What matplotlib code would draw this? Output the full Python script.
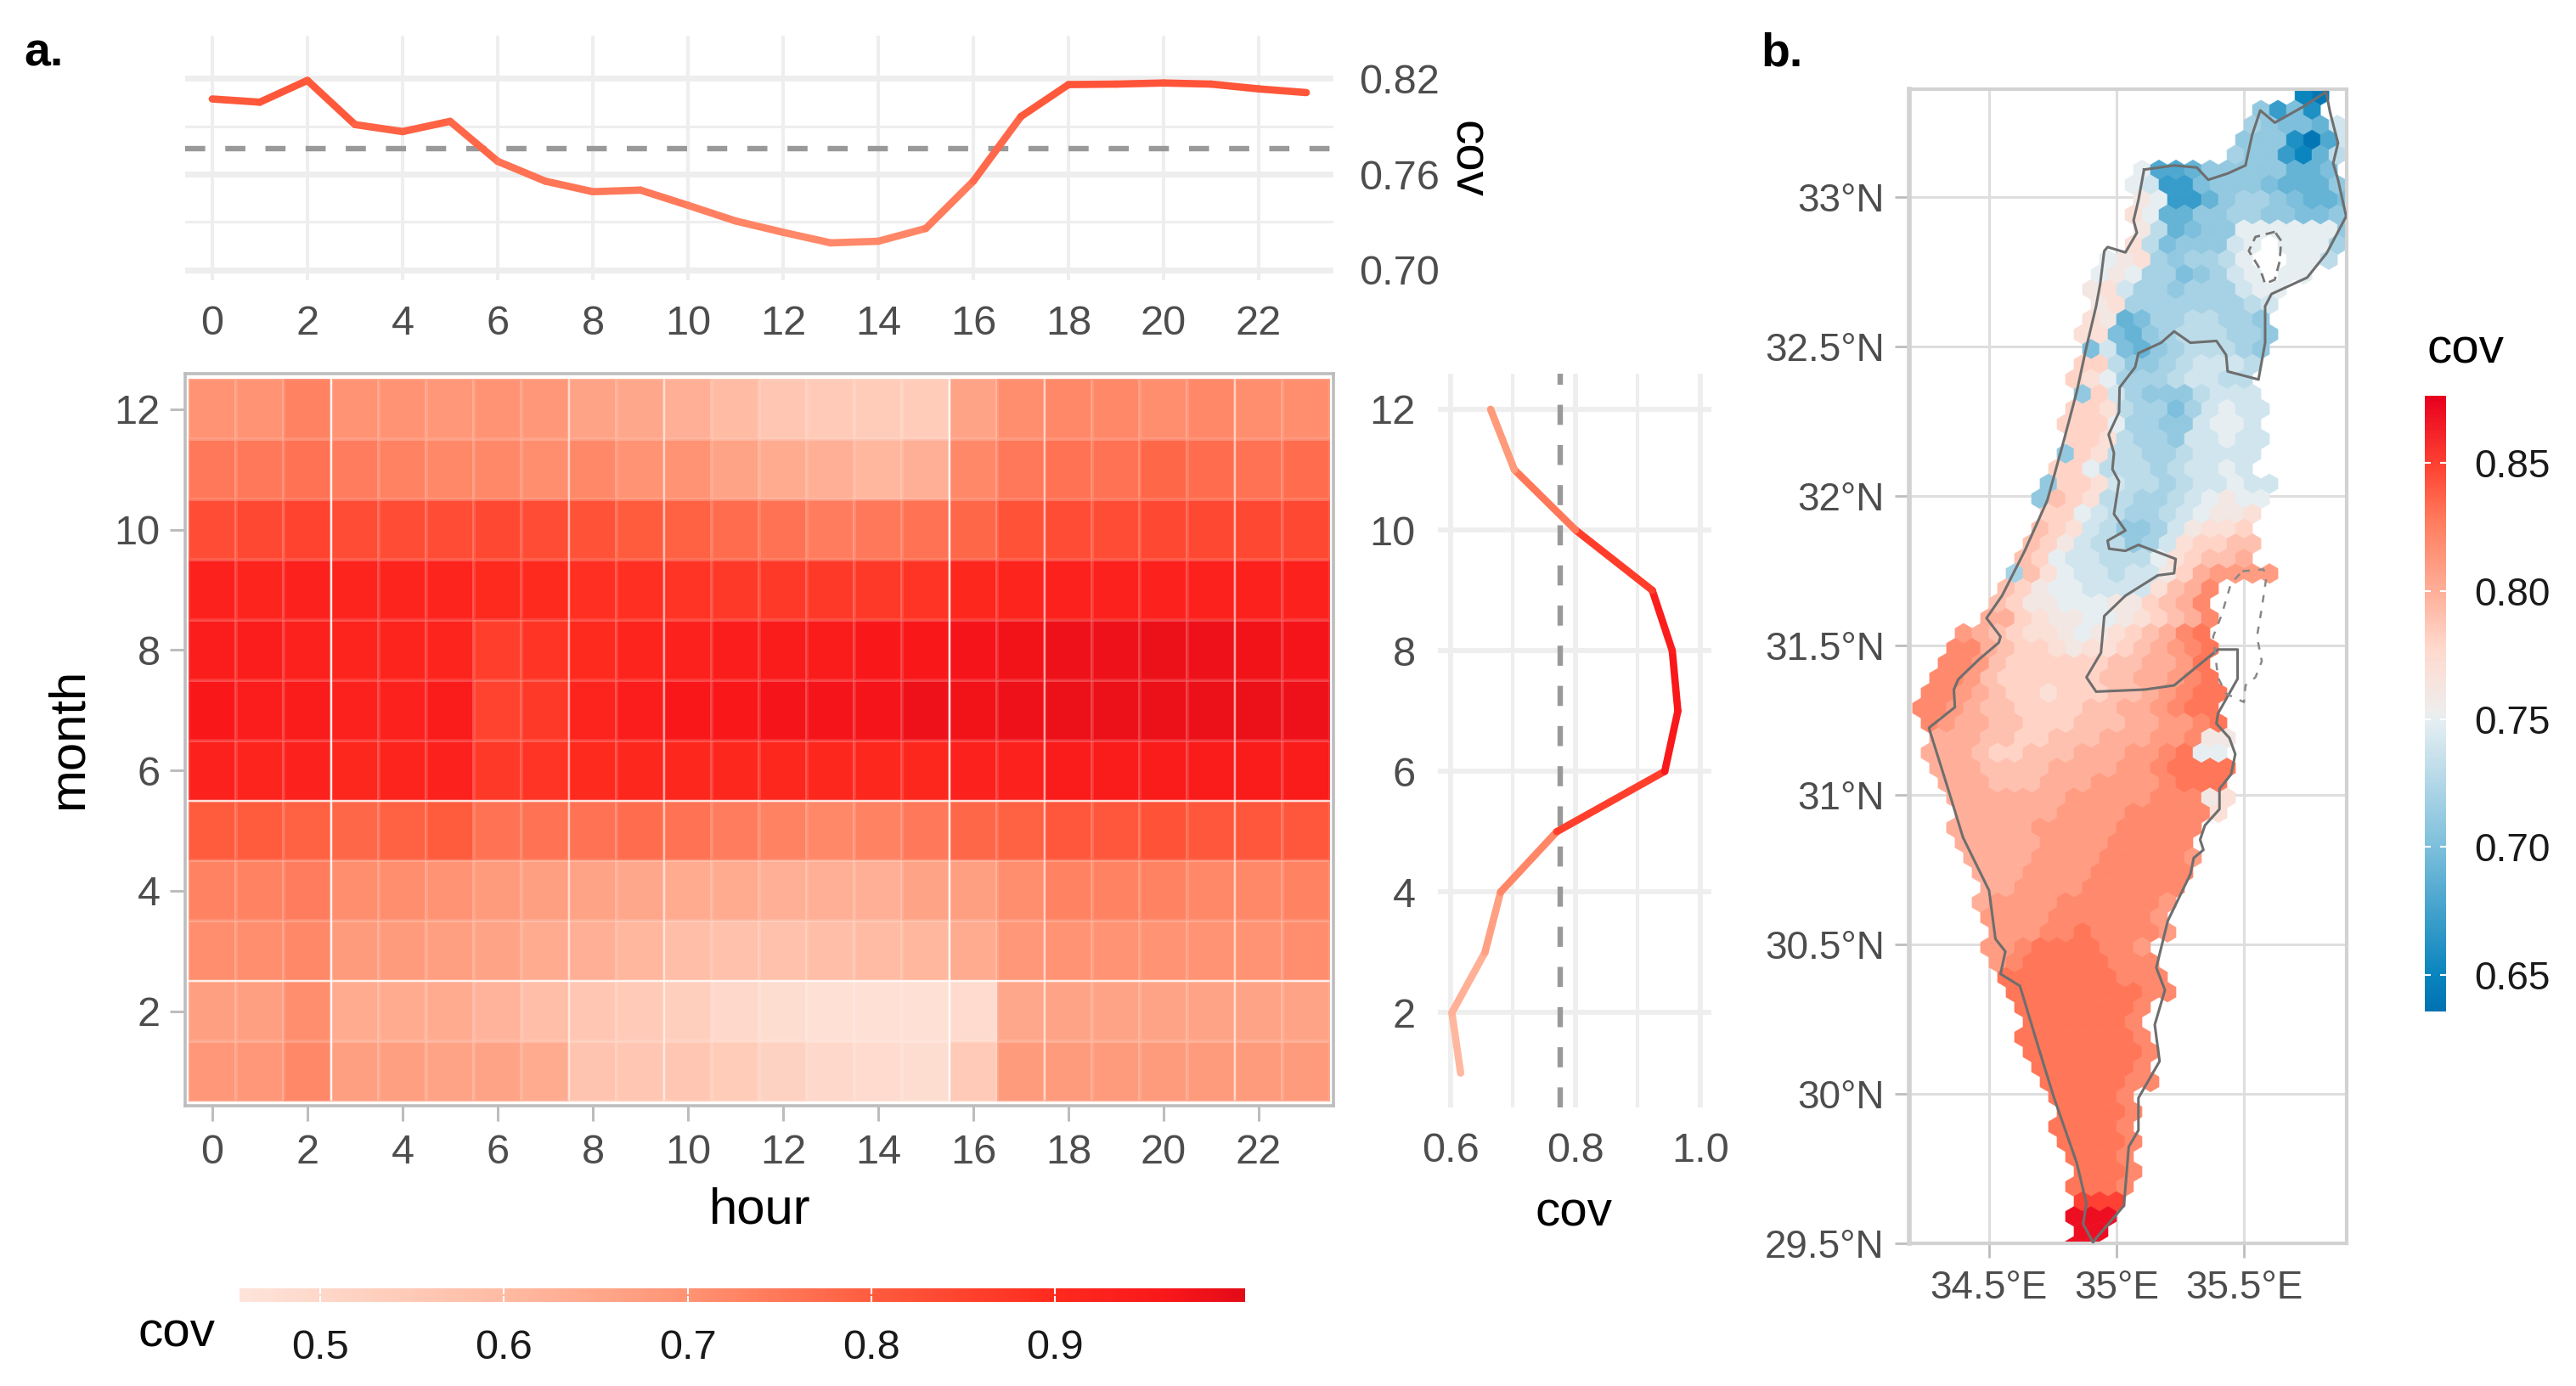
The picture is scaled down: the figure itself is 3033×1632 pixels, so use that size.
import numpy as np
import matplotlib
matplotlib.use("Agg")
import matplotlib.pyplot as plt
from matplotlib.collections import LineCollection, PolyCollection
from matplotlib.colors import LinearSegmentedColormap, Normalize
from matplotlib.cm import ScalarMappable

plt.rcParams['font.family'] = ['Liberation Sans', 'DejaVu Sans']

W, H = 3033, 1632
HOURS = np.arange(24)
MONTHS = np.arange(1, 13)
HOUR_TICKS = list(range(0, 23, 2))
MONTH_TICKS = [2, 4, 6, 8, 10, 12]

HOUR_COV = [.807, .805, .8186, .791, .7866, .793, .768, .7556, .749, .75, .7405, .7307,
            .7236, .717, .718, .726, .7556, .796, .816, .8163, .817, .8163, .8133, .811]
MONTH_COV = [.616, .602, .655, .68, .77, .943, .964, .955, .923, .80, .702, .664]
COV_MEAN = .776

HEAT = [  # month 1 .. 12, hour 0 .. 23
    [.69,.69,.72,.67,.67,.66,.66,.64,.57,.56,.56,.54,.52,.50,.49,.48,.55,.68,.68,.68,.68,.68,.68,.68],
    [.67,.67,.71,.64,.64,.64,.62,.59,.56,.55,.53,.50,.48,.47,.47,.47,.49,.65,.66,.66,.66,.66,.66,.66],
    [.71,.71,.72,.68,.68,.67,.66,.64,.63,.61,.59,.58,.58,.59,.60,.61,.64,.69,.70,.70,.70,.70,.70,.71],
    [.73,.73,.74,.71,.71,.70,.68,.67,.66,.65,.64,.64,.63,.63,.63,.66,.67,.71,.73,.73,.73,.72,.72,.73],
    [.80,.80,.79,.78,.79,.80,.76,.76,.76,.77,.76,.74,.73,.72,.73,.75,.78,.79,.81,.81,.82,.81,.81,.81],
    [.93,.92,.93,.91,.92,.93,.87,.88,.90,.91,.91,.91,.91,.91,.91,.91,.93,.93,.95,.95,.95,.95,.95,.95],
    [.96,.94,.95,.93,.93,.95,.85,.87,.92,.94,.96,.96,.97,.97,.97,.98,.975,.98,.985,.985,.985,.985,.985,.98],
    [.94,.94,.93,.92,.92,.92,.86,.88,.90,.92,.93,.94,.95,.95,.96,.96,.97,.975,.98,.98,.985,.98,.975,.97],
    [.93,.92,.93,.92,.92,.92,.90,.90,.89,.89,.88,.87,.87,.87,.87,.88,.91,.92,.93,.93,.93,.93,.93,.93],
    [.83,.84,.85,.83,.83,.83,.84,.83,.82,.80,.79,.77,.76,.74,.75,.76,.78,.82,.83,.83,.84,.84,.84,.84],
    [.75,.75,.76,.74,.73,.72,.72,.71,.72,.70,.70,.66,.64,.63,.61,.63,.72,.75,.76,.76,.78,.77,.76,.77],
    [.70,.70,.73,.70,.70,.69,.70,.69,.66,.65,.63,.60,.56,.55,.54,.54,.66,.71,.72,.72,.71,.72,.71,.71],
]
STRONG_V = [2.5, 15.5]
SOFT_V = [7.5, 9.5, 17.5, 21.5]
STRONG_H = [2.5, 5.5]

# map: one row of hexagons per latitude; letters a..z stand for cov .64 .. .89
MAP_TOP_LAT = 33.34
MAP_ROWS = [
 (35.72,"ba"),(35.59,"hdgc"),(35.53,"ihggfk"),(35.49,"hhhcaek"),(35.49,"ihhdbfj"),
 (35.12,"leefhhhhhffg"),(35.09,"lkddghhhgfffh"),(35.08,"mlddfhiihgffg"),(35.07,"nlffhhiihhggh"),
 (35.08,"mjfghhllllllh"),(35.05,"njghhhkl llli"),(34.95,"lmnihiijl  llj"),(34.94,"lmliighikl ll"),
 (34.93,"mnkiihiiikll"),(34.92,"mniiiiiiijk"),(34.91,"nmfgiijjiih"),(34.89,"nngfhijjjiih"),
 (34.90,"gkgfhijjjih"),(34.87,"oojhhijkkkj"),(34.86,"onliiijkkjj"),(34.867,"hokihhhjkkk"),
 (34.82,"oonjiigiklkk"),(34.79,"oooliihhkllk"),(34.83,"oonjiihkklkk"),(34.80,"honjjiijkkkk"),
 (34.787,"ooljjjijkklk"),(34.70,"hoonkjjijkklkk"),(34.68,"hponjjiijklmll"),(34.734,"oolkjiijklmmn"),
 (34.70,"ponkjhhikmnno"),(34.667,"pomkjjhiknoopp"),(34.633,"polkkjjjlnoppq"),(34.60,"ipnlkkjkkmoqrrrr"),
 (34.567,"pomllkkkknpqs"),(34.533,"pommlllmmopqs"),(34.47,"qqonmmllmnopqs"),(34.42,"rqponnmlmnopqst"),
 (34.38,"ssqpoonmnnopqrst"),(34.34,"ssrpooooooppqqrt"),(34.30,"ssrpooooooppqqrst"),(34.26,"ssrqpoonoooppqrstt"),
 (34.25,"ssrqppooooppqqrstt"),(34.24,"srqqppooopppqqrrst"),(34.28,"qqqppoopppqqqrrsmm"),(34.30,"qqqpoopppqqqrrstll"),
 (34.31,"qqqppppqqqqrrstttt"),(34.33,"qqqpppqqqrrrrsttt"),(34.36,"qqqqqqqrrrrrsssmn"),(34.38,"qqqqqqrrrrsssssn"),
 (34.39,"qqqqqrrrrrsssss"),(34.42,"qqqqqrrrrsssss"),(34.44,"qqqqrrrrsssssr"),(34.46,"qqqrrrrssssss"),
 (34.48,"qqrrrrssssss"),(34.49,"qrrrrssssssr"),(34.50,"rrrrssssssr"),(34.52,"rrrsstssssr"),
 (34.53,"rrsttttssr"),(34.55,"rstttttsss"),(34.57,"tttttttsss"),(34.60,"ttttttttss"),
 (34.62,"ttttttts"),(34.64,"tttttts"),(34.66,"ttttttts"),(34.68,"ttttttts"),
 (34.70,"tttttts"),(34.71,"tttttss"),(34.74,"tttts"),(34.77,"tttts"),
 (34.79,"tttts"),(34.81,"tttts"),(34.83,"ttts"),(34.85,"ttts"),
 (34.85,"ttts"),(34.867,"vvv"),(34.833,"xxx"),(34.867,"xx"),(34.833,"xx"),
]

BORDER_LON = [35.108,35.086,35.067,35.080,35.035,34.965,34.952,34.936,34.920,34.882,34.844,34.793,34.729,34.640,
 34.551,34.490,34.545,34.538,34.462,34.379,34.362,34.366,34.264,34.334,34.398,34.5,34.525,34.564,34.545,34.621,
 34.691,34.755,34.844,34.882,34.869,34.908,34.92,35.029,35.048,35.086,35.086,35.169,35.150,35.190,35.156,35.201,
 35.290,35.303,35.341,35.328,35.347,35.404,35.404,35.449,35.466,35.443,35.392,35.398,35.475,35.475,35.398,35.303,
 35.226,35.111,34.920,34.882,34.939,34.952,35.035,35.162,35.226,35.232,35.086,35.035,34.971,34.965,35.035,34.990,
 35.010,34.984,34.990,34.969,35.010,35.012,35.073,35.086,35.175,35.226,35.290,35.392,35.430,35.436,35.557,35.583,
 35.583,35.608,35.748,35.825,35.901,35.869,35.850,35.869,35.838,35.822,35.736,35.621,35.564,35.532,35.506,35.436,
 35.360,35.315,35.226,35.108]
BORDER_LAT = [33.091,32.989,32.921,32.880,32.814,32.832,32.819,32.709,32.634,32.498,32.348,32.184,31.986,31.816,
 31.666,31.591,31.529,31.509,31.454,31.386,31.352,31.293,31.224,31.034,30.857,30.680,30.518,30.476,30.401,30.361,
 30.163,29.986,29.769,29.633,29.565,29.503,29.517,29.626,29.823,29.878,29.986,30.109,30.231,30.347,30.422,30.578,
 30.735,30.789,30.816,30.850,30.898,30.952,31.020,31.068,31.136,31.190,31.238,31.272,31.388,31.486,31.486,31.420,
 31.366,31.352,31.345,31.393,31.475,31.598,31.666,31.734,31.741,31.789,31.836,31.816,31.823,31.850,31.884,31.939,
 32.048,32.089,32.143,32.205,32.280,32.362,32.430,32.477,32.512,32.550,32.512,32.518,32.471,32.416,32.389,32.512,
 32.634,32.675,32.730,32.812,32.935,33.057,33.112,33.180,33.282,33.351,33.303,33.248,33.289,33.207,33.105,33.078,
 33.057,33.098,33.105,33.091]
KINNERET_LON = [35.621,35.545,35.519,35.564,35.583,35.621,35.640,35.646,35.621]
KINNERET_LAT = [32.883,32.866,32.819,32.757,32.709,32.723,32.784,32.853,32.883]
DEADSEA_LON = [35.494,35.576,35.589,35.570,35.551,35.570,35.545,35.506,35.5,35.43,35.398,35.379,35.411,35.449,35.494]
DEADSEA_LAT = [31.748,31.754,31.734,31.625,31.529,31.447,31.393,31.366,31.31,31.338,31.393,31.529,31.598,31.707,31.748]

LAT_TICKS = [29.5, 30, 30.5, 31, 31.5, 32, 32.5, 33]
LAT_LABELS = ['29.5°N', '30°N', '30.5°N', '31°N', '31.5°N', '32°N', '32.5°N', '33°N']
LON_TICKS = [34.5, 35, 35.5]
LON_LABELS = ['34.5°E', '35°E', '35.5°E']
HEAT_LEG_TICKS = [.5, .6, .7, .8, .9]
MAP_LEG_TICKS = [.65, .70, .75, .80, .85]

heat_cmap = LinearSegmentedColormap.from_list('heat', [
    (0.0, '#FEE4DA'), (0.263, '#FFBBA3'), (0.446, '#FF9373'), (0.629, '#FF5C3E'),
    (0.812, '#FF2A1E'), (0.93, '#F8161A'), (1.0, '#E30B17')])
heat_norm = Normalize(.456, 1.0035)
map_cmap = LinearSegmentedColormap.from_list('mp', [
    (0.0, '#0072B2'), (0.06, '#0A85BE'), (0.27, '#7FC0DC'), (0.47, '#E4EEF2'), (0.49, '#EFEDEC'),
    (0.59, '#FFD9CD'), (0.68, '#FFB09A'), (0.80, '#FF7B5C'), (0.885, '#FF4433'), (1.0, '#E8001E')])
map_norm = Normalize(.6356, .8764)

GRID = '#EEEEEE'
TICKC = '#BDBDBD'
LABC = '#4D4D4D'
TS = 35
LINE_W = 6.2


def axpx(x0, y0, x1, y1, **kw):
    return fig.add_axes([x0 / W, 1 - y1 / H, (x1 - x0) / W, (y1 - y0) / H], **kw)


def ftext(x, y, s, **kw):
    kw.setdefault('ha', 'center')
    kw.setdefault('va', 'center')
    fig.text(x / W, 1 - y / H, s, **kw)


def colored(ax, x, y, v, lw):
    x, y, v = np.asarray(x, float), np.asarray(y, float), np.asarray(v, float)
    pts = np.column_stack([x, y])
    segs = np.stack([pts[:-1], pts[1:]], axis=1)
    lc = LineCollection(segs, colors=heat_cmap(heat_norm((v[:-1] + v[1:]) / 2)), linewidths=lw,
                        capstyle='round', joinstyle='round', zorder=4)
    ax.add_collection(lc)


def base_y(ax):
    for t in ax.get_yticklabels():
        t.set_va('center_baseline')


fig = plt.figure(figsize=(W / 100, H / 100), dpi=100, facecolor='white')

# heat map
ax = axpx(218, 440, 1570, 1302)
xe = np.arange(-0.5, 24, 1)
ye = np.arange(0.5, 13, 1)
ax.pcolormesh(xe, ye, np.array(HEAT), cmap=heat_cmap, norm=heat_norm, edgecolors=(1, 1, 1, .12),
              linewidth=1.6)
for v in STRONG_V:
    ax.axvline(v, color='white', lw=1.6, alpha=.9, ymin=.008, ymax=.992)
for v in SOFT_V:
    ax.axvline(v, color='white', lw=1.4, alpha=.55, ymin=.008, ymax=.992)
for v in STRONG_H:
    ax.axhline(v, color='white', lw=1.6, alpha=.8, xmin=.003, xmax=.997)
ax.set_xlim(-.57, 23.57)
ax.set_ylim(.43, 12.59)
ax.set_xticks(HOUR_TICKS)
ax.set_yticks(MONTH_TICKS)
ax.tick_params(length=13, width=2.2, color=TICKC, labelsize=TS, labelcolor=LABC)
ax.tick_params(axis='x', pad=11)
ax.tick_params(axis='y', pad=8)
base_y(ax)
for s in ax.spines.values():
    s.set_color(TICKC)
    s.set_linewidth(2.6)

# hour line
ax = axpx(218, 42, 1570, 330)
ax.set_xlim(-.57, 23.57)
ax.set_ylim(.6936, .8466)
ax.set_xticks(HOUR_TICKS)
ax.set_yticks([.70, .76, .82])
ax.set_yticklabels(['0.70', '0.76', '0.82'])
ax.set_yticks([.73, .79], minor=True)
ax.yaxis.tick_right()
ax.tick_params(which='both', length=0, labelsize=TS, labelcolor=LABC)
ax.tick_params(axis='x', pad=21)
ax.tick_params(axis='y', pad=22)
ax.grid(True, axis='x', color=GRID, lw=2.9, zorder=0)
ax.grid(True, axis='y', which='major', color=GRID, lw=5, zorder=0)
ax.grid(True, axis='y', which='minor', color=GRID, lw=2.2, zorder=0)
ax.set_axisbelow(True)
ax.axhline(COV_MEAN, color='#999999', lw=4.6, dashes=(3.7, 3.7), dash_capstyle='butt', zorder=3)
colored(ax, HOURS, HOUR_COV, HOUR_COV, LINE_W)
for s in ax.spines.values():
    s.set_visible(False)

# month line
ax = axpx(1693, 440, 2015, 1304)
ax.set_xlim(.5796, 1.0177)
ax.set_ylim(.43, 12.59)
ax.set_xticks([.6, .8, 1.0])
ax.set_xticklabels(['0.6', '0.8', '1.0'])
ax.set_xticks([.7, .9], minor=True)
ax.set_yticks(MONTH_TICKS)
ax.tick_params(which='both', length=0, labelsize=TS, labelcolor=LABC)
ax.tick_params(axis='x', pad=21)
ax.tick_params(axis='y', pad=19)
base_y(ax)
ax.grid(True, axis='y', color=GRID, lw=4.2, zorder=0)
ax.grid(True, axis='x', which='major', color=GRID, lw=4.2, zorder=0)
ax.grid(True, axis='x', which='minor', color=GRID, lw=2.9, zorder=0)
ax.set_axisbelow(True)
ax.axvline(COV_MEAN, color='#999999', lw=4.6, dashes=(3.7, 3.7), dash_capstyle='butt', zorder=3)
colored(ax, MONTH_COV, MONTHS, MONTH_COV, LINE_W)
for s in ax.spines.values():
    s.set_visible(False)

# heat legend
cax = axpx(282, 1517, 1466, 1533)
cb = fig.colorbar(ScalarMappable(heat_norm, heat_cmap), cax=cax, orientation='horizontal')
cb.set_ticks(HEAT_LEG_TICKS)
cb.ax.set_xticklabels([f'{t:.1f}' for t in HEAT_LEG_TICKS])
cb.outline.set_visible(False)
cb.ax.tick_params(direction='in', length=5, width=1.5, color='white', top=True, labelsize=TS,
                  labelcolor='#1A1A1A', pad=23)

# map
ax = axpx(2248, 105, 2763, 1464)
ax.set_xlim(34.187, 35.903)
ax.set_ylim(29.5, 33.36)
DX = 1 / 15
DY = .05
verts, vals = [], []
for r, (w, cells) in enumerate(MAP_ROWS):
    lat = MAP_TOP_LAT - r * DY
    base = 34.2 + (DX / 2 if r % 2 else 0)
    c0 = round((w - base) / DX)
    for k, ch in enumerate(cells):
        if ch == ' ':
            continue
        lon = base + (c0 + k) * DX
        h = DY * 2 / 3
        verts.append([(lon, lat + h), (lon + DX / 2, lat + h / 2), (lon + DX / 2, lat - h / 2),
                      (lon, lat - h), (lon - DX / 2, lat - h / 2), (lon - DX / 2, lat + h / 2)])
        vals.append(.64 + .01 * (ord(ch) - 97))
pc = PolyCollection(verts, array=np.array(vals), cmap=map_cmap, norm=map_norm, edgecolors='face',
                    linewidths=.4, zorder=2)
ax.add_collection(pc)
ax.plot(BORDER_LON, BORDER_LAT, color='#6E6E6E', lw=2.2, zorder=4, solid_joinstyle='round')
ax.plot(KINNERET_LON, KINNERET_LAT, color='#777777', lw=2, dashes=(4, 2.5), zorder=4)
ax.plot(DEADSEA_LON, DEADSEA_LAT, color='#888888', lw=1.8, dashes=(3.5, 4), zorder=4)
ax.set_xticks(LON_TICKS)
ax.set_xticklabels(LON_LABELS)
ax.set_yticks(LAT_TICKS)
ax.set_yticklabels(LAT_LABELS)
ax.tick_params(length=12, width=2, color=TICKC, labelsize=33, labelcolor=LABC)
ax.tick_params(axis='x', pad=10)
ax.tick_params(axis='y', pad=9)
base_y(ax)
ax.grid(True, color='#DEDEDE', lw=2.2, zorder=0)
ax.set_axisbelow(True)
for n, s in ax.spines.items():
    s.set_color('#D2D2D2')
    s.set_linewidth(4 if n == 'left' else 3)

# map legend
cax = axpx(2855, 466, 2880, 1191)
cb = fig.colorbar(ScalarMappable(map_norm, map_cmap), cax=cax, orientation='vertical')
cb.set_ticks(MAP_LEG_TICKS)
cb.ax.set_yticklabels([f'{t:.2f}' for t in MAP_LEG_TICKS])
cb.outline.set_visible(False)
cb.ax.tick_params(direction='in', length=5, width=1.5, color='white', left=True, labelsize=33,
                  labelcolor='#1A1A1A', pad=24)
base_y(cb.ax)

# texts
ftext(81, 870, 'month', fontsize=43, rotation=90)
ftext(895, 1425, 'hour', fontsize=43)
ftext(1853, 1428, 'cov', fontsize=42)
ftext(1727, 188, 'cov', fontsize=42, rotation=-90)
ftext(208, 1570, 'cov', fontsize=42)
ftext(2858, 413, 'cov', fontsize=42, ha='left')
ftext(28, 63, 'a.', fontsize=40, fontweight='bold', ha='left')
ftext(2073, 63, 'b.', fontsize=40, fontweight='bold', ha='left')

fig.savefig('out.png', dpi=100, facecolor='white')
